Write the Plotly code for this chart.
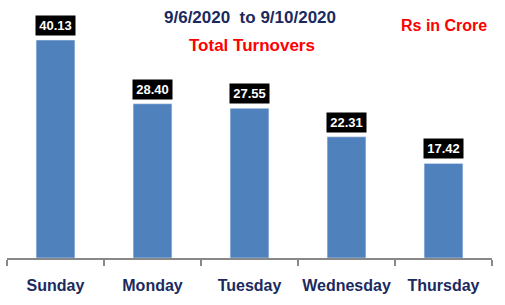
import plotly.graph_objects as go

days = ["Sunday", "Monday", "Tuesday", "Wednesday", "Thursday"]
turnover = [40.13, 28.40, 27.55, 22.31, 17.42]
value_labels = ["40.13", "28.40", "27.55", "22.31", "17.42"]

navy = "#1B2A5E"
fig = go.Figure()
fig.add_trace(go.Bar(x=days, y=turnover, marker_color="#4F81BD", width=0.4, hoverinfo="skip"))

for d, v, t in zip(days, turnover, value_labels):
    fig.add_annotation(x=d, y=v, text="<b>%s</b>" % t, showarrow=False, xref="x", yref="y",
                       yanchor="bottom", yshift=4, bgcolor="black", width=37, height=17,
                       font=dict(family="Liberation Sans, Arial", size=13, color="white"))

fig.add_annotation(text="<b>9/6/2020  to 9/10/2020</b>", xref="paper", yref="paper",
                   x=0.501, y=0.934, showarrow=False, yanchor="middle", xanchor="center",
                   font=dict(family="Liberation Sans, Arial", size=17, color=navy))
fig.add_annotation(text="<b>Total Turnovers</b>", xref="paper", yref="paper",
                   x=0.505, y=0.822, showarrow=False, yanchor="middle", xanchor="center",
                   font=dict(family="Liberation Sans, Arial", size=17, color="#FF0000"))
fig.add_annotation(text="<b>Rs in Crore</b>", xref="paper", yref="paper",
                   x=0.901, y=0.903, showarrow=False, yanchor="middle", xanchor="center",
                   font=dict(family="Liberation Sans, Arial", size=16, color="#FF0000"))

fig.update_layout(
    width=505, height=305, margin=dict(l=7, r=13, t=0, b=47),
    plot_bgcolor="white", paper_bgcolor="white", showlegend=False,
    bargap=0.6,
    xaxis=dict(showline=True, linecolor="#888888", linewidth=1.5, ticks="outside",
               tickson="boundaries", ticklen=6, tickcolor="#888888", tickwidth=1.5,
               ticklabelstandoff=12, tickangle=0, automargin=False,
               tickfont=dict(family="Liberation Sans, Arial", size=16, color=navy),
               showgrid=False),
    yaxis=dict(range=[0, 47.5], visible=False, showgrid=False, automargin=False),
)
fig.update_xaxes(tickvals=days, ticktext=["<b>%s</b>" % d for d in days])
fig.write_html("out.html")
